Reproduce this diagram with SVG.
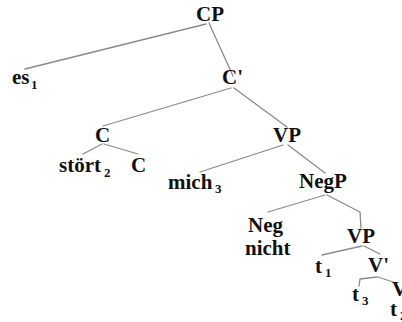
<svg xmlns="http://www.w3.org/2000/svg" width="402" height="322" viewBox="0 0 402 322">
  <style>
    .lbl { font-family: "Liberation Serif", "Times New Roman", serif; font-weight: bold; font-size: 21px; fill: #111; }
    .sub { font-family: "Liberation Serif", "Times New Roman", serif; font-weight: bold; font-size: 13px; fill: #111; }
    .edge { stroke: #8a8a8a; stroke-width: 1.3; fill: none; stroke-linecap: round; stroke-linejoin: round; }
  </style>
  <rect width="402" height="322" fill="#fff"/>

  <!-- tree branches -->
  <g id="connectors">
    <line class="edge" x1="206" y1="24" x2="25" y2="69"/>
    <line class="edge" x1="209" y1="23" x2="233" y2="76"/>
    <line class="edge" x1="231" y1="88" x2="103" y2="126"/>
    <line class="edge" x1="234" y1="88" x2="287" y2="127"/>
    <line class="edge" x1="102" y1="144" x2="83" y2="154"/>
    <line class="edge" x1="104" y1="144" x2="138" y2="154"/>
    <line class="edge" x1="283" y1="145" x2="200" y2="172"/>
    <line class="edge" x1="288" y1="145" x2="325" y2="173"/>
    <line class="edge" x1="325" y1="195" x2="268" y2="212"/>
    <polyline class="edge" points="327,195 360,212 361,228"/>
    <line class="edge" x1="362" y1="246" x2="322" y2="255"/>
    <line class="edge" x1="364" y1="246" x2="380" y2="254"/>
    <polyline class="edge" points="377,277 360,279 359,286"/>
    <line class="edge" x1="378" y1="277" x2="393" y2="282"/>
  </g>

  <g id="n-CP"><text class="lbl" x="196" y="21">CP</text></g>
  <g id="n-es"><text class="lbl" x="12" y="84">es</text><text class="sub" x="31" y="89">1</text></g>
  <g id="n-Cbar"><text class="lbl" x="222" y="84">C'</text></g>
  <g id="n-C"><text class="lbl" x="95" y="142">C</text></g>
  <g id="n-stoert"><text class="lbl" x="59" y="172">stört</text><text class="sub" x="104" y="177">2</text></g>
  <g id="n-C0"><text class="lbl" x="131" y="172">C</text></g>
  <g id="n-VP1"><text class="lbl" x="273" y="142">VP</text></g>
  <g id="n-mich"><text class="lbl" x="168" y="189">mich</text><text class="sub" x="215" y="193">3</text></g>
  <g id="n-NegP"><text class="lbl" x="299" y="188">NegP</text></g>
  <g id="n-Neg"><text class="lbl" x="248" y="232">Neg</text></g>
  <g id="n-nicht"><text class="lbl" x="245" y="255">nicht</text></g>
  <g id="n-VP2"><text class="lbl" x="347" y="243">VP</text></g>
  <g id="n-t1"><text class="lbl" x="315" y="273">t</text><text class="sub" x="325" y="277">1</text></g>
  <g id="n-Vbar"><text class="lbl" x="368" y="272">V'</text></g>
  <g id="n-t3"><text class="lbl" x="352" y="301">t</text><text class="sub" x="362" y="305">3</text></g>
  <g id="n-V"><text class="lbl" x="392" y="296">V</text></g>
  <g id="n-t2"><text class="lbl" x="390" y="316">t</text><text class="sub" x="400" y="320">2</text></g>
</svg>
